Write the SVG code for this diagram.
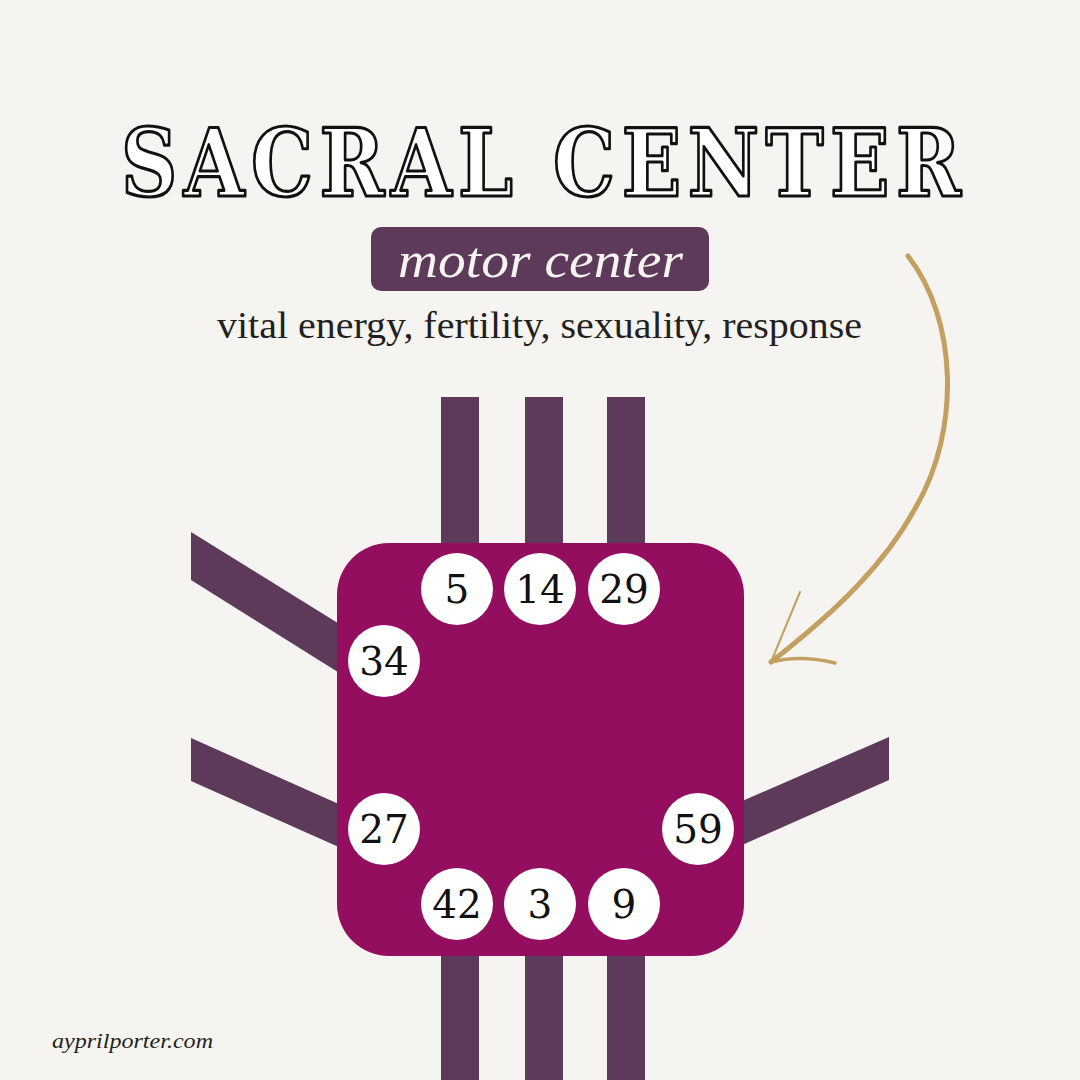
<svg xmlns="http://www.w3.org/2000/svg" width="1080" height="1080" viewBox="0 0 1080 1080">
<style>
.bar{fill:#5e3a5a}
.gate{fill:#ffffff}
.num{font-family:"DejaVu Serif","Liberation Serif",serif;font-size:39px;fill:#111;text-anchor:middle}
</style>
<rect width="1080" height="1080" fill="#f5f4f0"/>
<g id="title" transform="translate(121,196) scale(0.84,1)">
<text x="0" y="0" textLength="1000" lengthAdjust="spacing" font-family="DejaVu Serif, serif" font-weight="bold" font-size="93" fill="#ffffff" stroke="#111" stroke-width="3.2" stroke-linejoin="round">SACRAL CENTER</text>
</g>
<g id="subtitle">
<rect x="371" y="227" width="338" height="64" rx="10" fill="#5e3a5a"/>
<text x="398" y="277" textLength="285" lengthAdjust="spacingAndGlyphs" font-family="Liberation Serif, serif" font-style="italic" font-size="50" fill="#f5f4f0">motor center</text>
</g>
<g id="tagline">
<text x="217" y="338" textLength="645" lengthAdjust="spacingAndGlyphs" font-family="Liberation Serif, serif" font-size="37" fill="#231f20">vital energy, fertility, sexuality, response</text>
</g>
<g id="connectors">
<rect class="bar" x="441" y="397" width="38" height="150"/>
<rect class="bar" x="525" y="397" width="38" height="150"/>
<rect class="bar" x="607" y="397" width="38" height="150"/>
<rect class="bar" x="441" y="950" width="38" height="130"/>
<rect class="bar" x="525" y="950" width="38" height="130"/>
<rect class="bar" x="607" y="950" width="38" height="130"/>
<polygon class="bar" points="191,532 191,580 341,674 341,625"/>
<polygon class="bar" points="191,738 191,781 341,848 341,805"/>
<polygon class="bar" points="889,737 889,780 740,846 740,802"/>
</g>
<g id="sacral-center">
<rect x="337" y="543" width="407" height="413" rx="52" fill="#930e5f"/>
</g>
<g id="gate-5"><circle class="gate" cx="457" cy="589" r="36"/><text class="num" x="457" y="603">5</text></g>
<g id="gate-14"><circle class="gate" cx="540" cy="589" r="36"/><text class="num" x="540" y="603">14</text></g>
<g id="gate-29"><circle class="gate" cx="624" cy="589" r="36"/><text class="num" x="624" y="603">29</text></g>
<g id="gate-34"><circle class="gate" cx="384" cy="661" r="36"/><text class="num" x="384" y="675">34</text></g>
<g id="gate-27"><circle class="gate" cx="384" cy="829" r="36"/><text class="num" x="384" y="843">27</text></g>
<g id="gate-59"><circle class="gate" cx="698" cy="829" r="36"/><text class="num" x="698" y="843">59</text></g>
<g id="gate-42"><circle class="gate" cx="457" cy="904" r="36"/><text class="num" x="457" y="918">42</text></g>
<g id="gate-3"><circle class="gate" cx="540" cy="904" r="36"/><text class="num" x="540" y="918">3</text></g>
<g id="gate-9"><circle class="gate" cx="624" cy="904" r="36"/><text class="num" x="624" y="918">9</text></g>
<g id="arrow" fill="none" stroke="#c4a060" stroke-linecap="round">
<path d="M908,256 C 958,320 960,430 917,505 C 885,565 835,612 771,662" stroke-width="5"/>
<path d="M771,662 L 800,592" stroke-width="2"/>
<path d="M771,662 C 795,656 815,658 835,663" stroke-width="3.5"/>
</g>
<g id="website">
<text x="52" y="1048" textLength="161" lengthAdjust="spacingAndGlyphs" font-family="Liberation Serif, serif" font-style="italic" font-size="22" fill="#231f20">ayprilporter.com</text>
</g>
</svg>
